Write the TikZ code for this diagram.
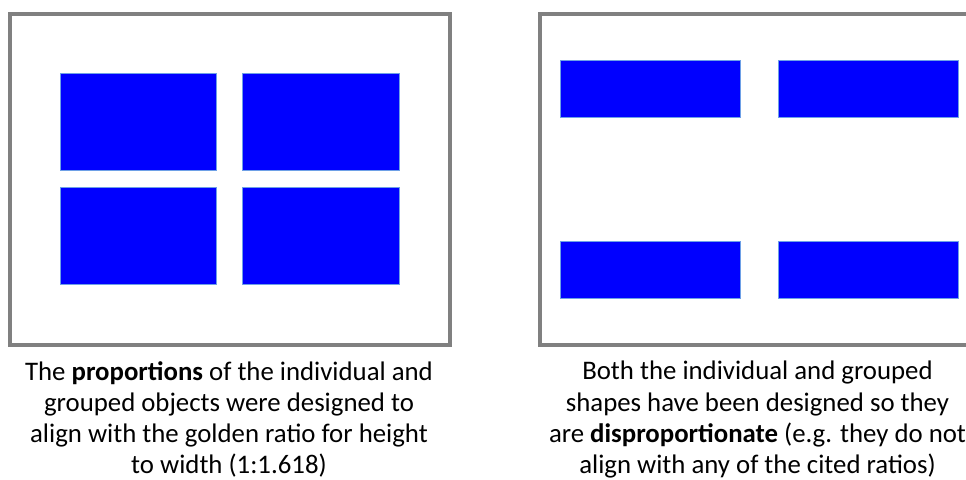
\documentclass[tikz,border=0pt]{standalone}
\usepackage{fontspec}
\setmainfont{Carlito}
\begin{document}
\begin{tikzpicture}[x=1pt,y=-1pt,
  frame/.style={draw={rgb,255:red,128;green,128;blue,128}, line width=3.5pt},
  blk/.style={fill={rgb,255:red,0;green,0;blue,255}, draw={rgb,255:red,110;green,160;blue,230}, line width=1pt},
  captext/.style={align=center, inner sep=0pt, anchor=north, font=\fontsize{26.8}{31.3}\selectfont}]
\useasboundingbox (0,0) rectangle (966,479);
\begin{scope}
\clip (0,0) rectangle (966,479);
% left panel
\draw[frame] (10,14) rectangle (450,345);
\draw[blk] (60.5,73.5) rectangle (216,170);
\draw[blk] (242.5,73.5) rectangle (399,170);
\draw[blk] (60.5,187.5) rectangle (216,284);
\draw[blk] (242.5,187.5) rectangle (399,284);
% right panel
\draw[frame] (540,14) rectangle (990,345);
\draw[blk] (560.5,60.5) rectangle (740,117);
\draw[blk] (778.5,60.5) rectangle (958,117);
\draw[blk] (560.5,241.5) rectangle (740,298);
\draw[blk] (778.5,241.5) rectangle (958,298);
% captions
\node[captext] (capL) at (229,361) {The \textbf{proportions} of the individual and\\grouped objects were designed to\\align with the golden ratio for height\\to width (1:1.618)};
\node[captext] (capR) at (757.5,361) {Both the individual and grouped\\shapes have been designed so they\\are \textbf{disproportionate} (e.g. they do not\\align with any of the cited ratios)};
\end{scope}
\end{tikzpicture}
\end{document}
